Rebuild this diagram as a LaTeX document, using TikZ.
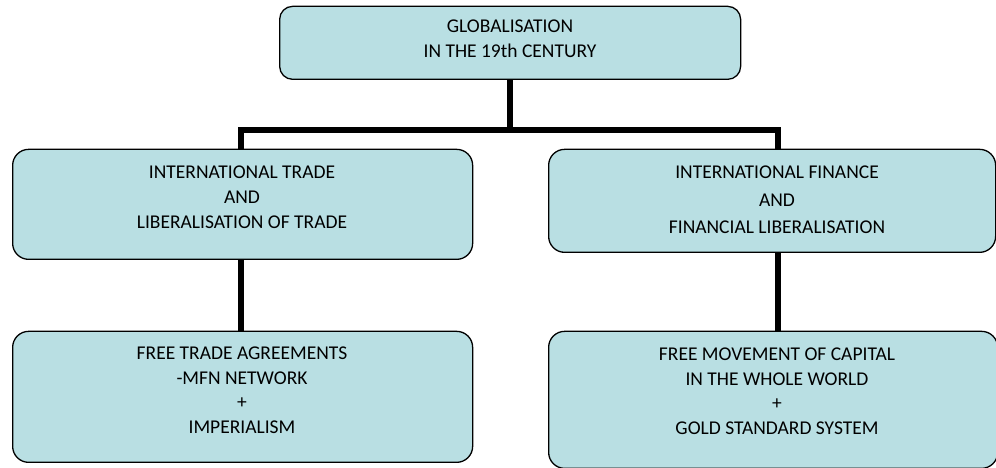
\documentclass[tikz,border=0pt]{standalone}
\usepackage{fontspec}
\setmainfont{Carlito}
\definecolor{boxfill}{RGB}{185,223,227}
\tikzset{
  box/.style={draw=black, line width=1.3pt, fill=boxfill, rounded corners=13pt, anchor=south west, inner sep=0pt},
  lbl/.style={align=center, font=\fontsize{19.5}{25}\selectfont, inner sep=0pt, text=black},
  conn/.style={line width=5.5pt, line join=miter, line cap=butt}
}
\begin{document}
\begin{tikzpicture}[x=1pt,y=1pt]
\useasboundingbox (0,0) rectangle (996,468);
% boxes
\node[box, minimum width=461pt, minimum height=73pt] (top) at (279,388) {};
\node[box, minimum width=460pt, minimum height=110pt, rounded corners=16pt] (lmid) at (12,208) {};
\node[box, minimum width=447pt, minimum height=103pt, rounded corners=16pt] (rmid) at (548,215) {};
\node[box, minimum width=460pt, minimum height=131pt, rounded corners=16pt] (lbot) at (12,5) {};
\node[box, minimum width=449pt, minimum height=137pt, rounded corners=16pt] (rbot) at (548,-1) {};
% labels
\node[lbl] (ttop) at (510,429) {GLOBALISATION\\IN THE 19th CENTURY};
\node[lbl] (tlmid) at (242,271) {INTERNATIONAL TRADE\\AND\\LIBERALISATION OF TRADE};
\node[lbl, font=\fontsize{19.5}{27.5}\selectfont] (trmid) at (777,268) {INTERNATIONAL FINANCE\\AND\\FINANCIAL LIBERALISATION};
\node[lbl, font=\fontsize{19.5}{24.5}\selectfont] (tlbot) at (242,78) {FREE TRADE AGREEMENTS\\-MFN NETWORK\\+\\IMPERIALISM};
\node[lbl, font=\fontsize{19.5}{24.5}\selectfont] (trbot) at (777,77) {FREE MOVEMENT OF CAPITAL\\IN THE WHOLE WORLD\\+\\GOLD STANDARD SYSTEM};
% connectors
\coordinate (hl) at (241,338);
\coordinate (hr) at (778,338);
\draw[conn] (top.south) -- (top.south |- hl);
\draw[conn] (lmid.north -| hl) -- (hl) -- (hr) -- (rmid.north -| hr);
\draw[conn] (lmid.south -| hl) -- (lbot.north -| hl);
\draw[conn] (rmid.south -| hr) -- (rbot.north -| hr);
\end{tikzpicture}
\end{document}
